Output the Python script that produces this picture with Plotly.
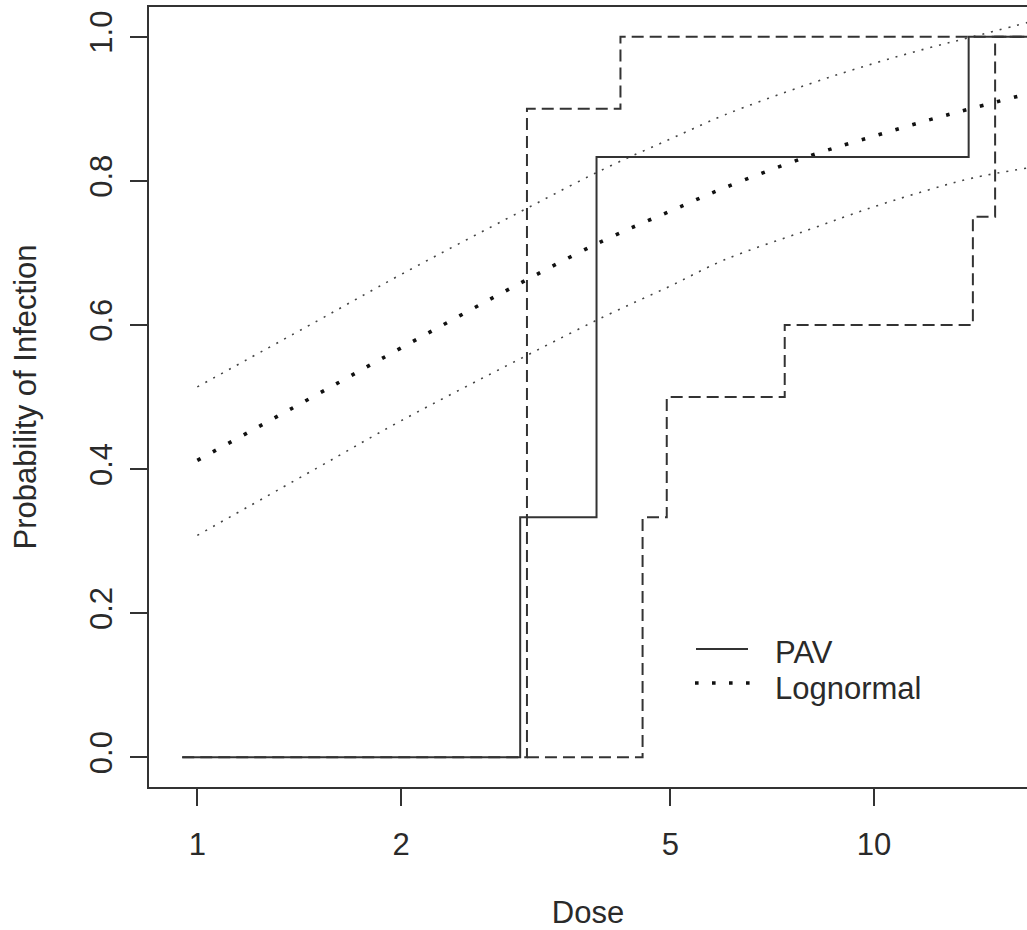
import plotly.graph_objects as go

# ---------------- data ----------------
# PAV (pool-adjacent-violators) step estimate
pav_dose = [0.95, 3.0, 3.89, 13.8, 18.0]
pav_prob = [0.0, 0.333, 0.833, 1.0, 1.0]

# PAV upper / lower confidence bounds (dashed steps)
upper_dose = [0.95, 3.07, 4.22, 18.0]
upper_prob = [0.0, 0.9, 1.0, 1.0]
lower_dose = [3.07, 4.55, 4.94, 7.38, 14.0, 15.1, 18.0]
lower_prob = [0.0, 0.333, 0.5, 0.6, 0.75, 1.0, 1.0]

# Lognormal fit and its confidence band
ln_dose = [1, 1.5, 2, 3, 4, 5, 6, 8, 10, 12, 14, 16.9]
ln_mean = [0.412, 0.503, 0.568, 0.658, 0.718, 0.758, 0.790, 0.834, 0.862, 0.884, 0.901, 0.921]
ln_upper = [0.514, 0.605, 0.670, 0.757, 0.817, 0.858, 0.891, 0.934, 0.963, 0.984, 1.000, 1.020]
ln_lower = [0.308, 0.401, 0.467, 0.553, 0.612, 0.654, 0.690, 0.732, 0.764, 0.787, 0.804, 0.818]

x_tickvals = [1, 2, 5, 10]
x_ticktext = ["1", "2", "5", "10"]
y_tickvals = [0.0, 0.2, 0.4, 0.6, 0.8, 1.0]
y_ticktext = ["0.0", "0.2", "0.4", "0.6", "0.8", "1.0"]

legend_labels = ["PAV", "Lognormal"]

# ---------------- style ----------------
FONT = "Liberation Sans, Arial, Helvetica, sans-serif"
TXT = "#2a2a2a"
LC = "#333333"
FS = 31

W, H = 1027, 930
ML, MR, MT, MB = 149, 0, 7, 143
PW, PH = W - ML - MR, H - MT - MB


def px_x(px):
    return (px - ML) / PW


def px_y(py):
    return (H - MB - py) / PH


fig = go.Figure()

# confidence band of lognormal (thin dotted)
for yy in (ln_upper, ln_lower):
    fig.add_trace(go.Scatter(x=ln_dose, y=yy, mode="lines",
                             line=dict(color="#444444", width=1.6, dash="2px,7px", shape="spline"),
                             showlegend=False, hoverinfo="skip"))

# lognormal fit (thick dotted)
fig.add_trace(go.Scatter(x=ln_dose, y=ln_mean, mode="lines",
                         line=dict(color="#111111", width=3.6, dash="3.6px,14px", shape="spline"),
                         showlegend=False, name="Lognormal"))

# PAV bounds (dashed)
fig.add_trace(go.Scatter(x=upper_dose, y=upper_prob, mode="lines",
                         line=dict(color=LC, width=2, dash="12px,6px", shape="hv"),
                         showlegend=False))
fig.add_trace(go.Scatter(x=lower_dose, y=lower_prob, mode="lines",
                         line=dict(color=LC, width=2, dash="12px,6px", shape="hv"),
                         showlegend=False))

# PAV (solid)
fig.add_trace(go.Scatter(x=pav_dose, y=pav_prob, mode="lines",
                         line=dict(color=LC, width=2, shape="hv"),
                         showlegend=False, name="PAV"))

# ---------------- manual legend ----------------
shapes = [
    dict(type="line", xref="paper", yref="paper",
         x0=px_x(696), x1=px_x(748), y0=px_y(649), y1=px_y(649),
         line=dict(color=LC, width=2)),
    dict(type="line", xref="paper", yref="paper",
         x0=px_x(695), x1=px_x(752), y0=px_y(683), y1=px_y(683),
         line=dict(color="#111111", width=3.6, dash="3.6px,13.4px")),
]
annotations = [
    dict(xref="paper", yref="paper", x=px_x(773), y=px_y(652), text=legend_labels[0],
         showarrow=False, xanchor="left", yanchor="middle",
         font=dict(family=FONT, size=FS, color=TXT)),
    dict(xref="paper", yref="paper", x=px_x(773), y=px_y(688), text=legend_labels[1],
         showarrow=False, xanchor="left", yanchor="middle",
         font=dict(family=FONT, size=FS, color=TXT)),
]

fig.update_layout(
    width=W, height=H,
    margin=dict(l=ML, r=MR, t=MT, b=MB, pad=0),
    paper_bgcolor="white", plot_bgcolor="white",
    font=dict(family=FONT, size=FS, color=TXT),
    showlegend=False,
    shapes=shapes,
    annotations=annotations,
    xaxis=dict(
        type="log", range=[-0.0714, 1.2261],
        tickvals=x_tickvals, ticktext=x_ticktext,
        ticks="outside", ticklen=17, tickwidth=2, tickcolor=LC,
        showline=True, linecolor=LC, linewidth=2, mirror=True,
        showgrid=False, zeroline=False,
        ticklabelstandoff=12,
        tickfont=dict(family=FONT, size=FS, color=TXT),
        title=dict(text="Dose", font=dict(family=FONT, size=FS, color=TXT), standoff=47),
        automargin=False,
    ),
    yaxis=dict(
        range=[-0.04125, 1.04125],
        tickvals=y_tickvals, ticktext=y_ticktext,
        ticks="outside", ticklen=17, tickwidth=2, tickcolor=LC,
        tickangle=-90,
        showline=True, linecolor=LC, linewidth=2, mirror=False,
        showgrid=False, zeroline=False,
        ticklabelstandoff=6,
        tickfont=dict(family=FONT, size=FS, color=TXT),
        title=dict(text="Probability of Infection", font=dict(family=FONT, size=FS, color=TXT), standoff=38),
        automargin=False,
    ),
)

fig.write_html("out.html")
